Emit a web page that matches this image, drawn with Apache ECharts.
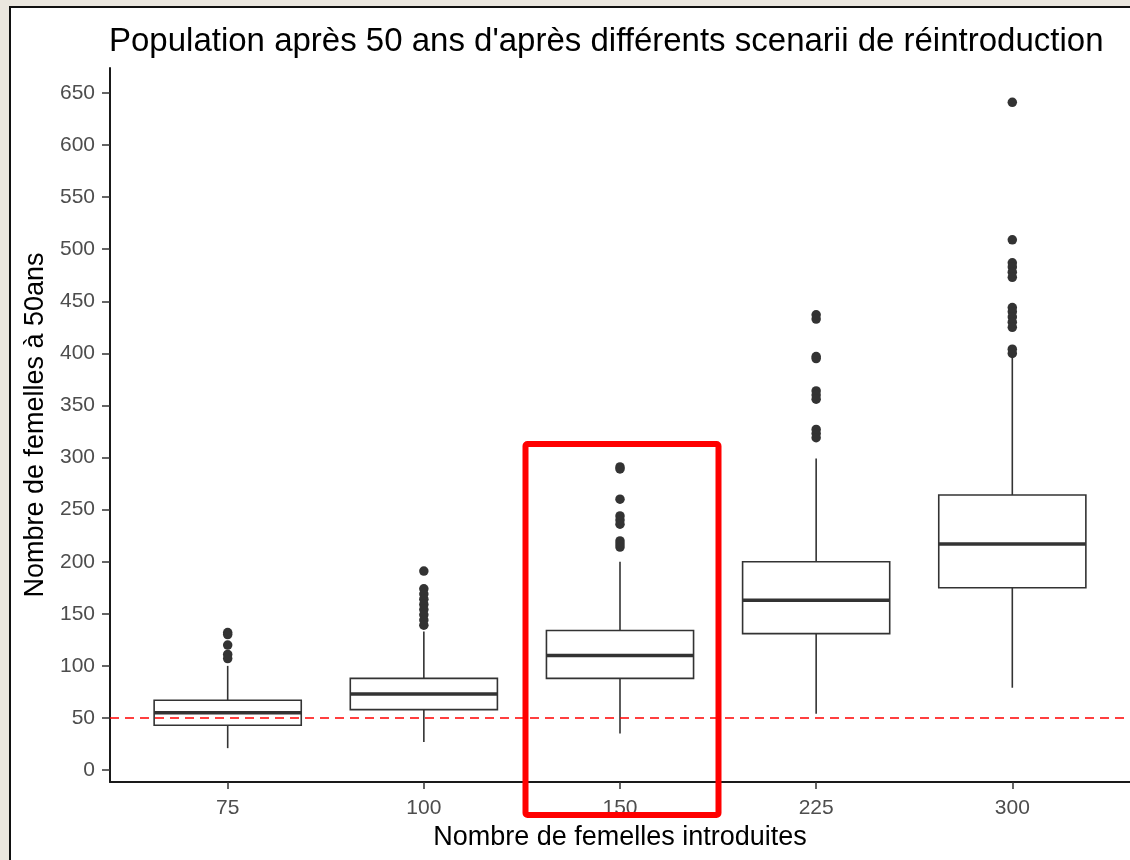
<!DOCTYPE html>
<html>
<head>
<meta charset="utf-8">
<script src="https://cdn.jsdelivr.net/npm/echarts@6/dist/echarts.min.js"></script>
<style>
html, body { margin: 0; padding: 0; background: #ebe7df; }
#main { width: 1130px; height: 860px; }
</style>
</head>
<body>
<div id="main"></div>
<script>
// categories on the x axis (number of females introduced)
var categories = ['75', '100', '150', '225', '300'];

// boxplot stats per category
var whiskerLow  = [21, 27, 35, 54, 79];
var q1          = [43, 58, 88, 131, 175];
var medians     = [55, 73, 110, 163, 217];
var q3          = [67, 88, 134, 200, 264];
var whiskerHigh = [100, 133, 200, 299, 397];

// outliers
var outliers75  = [132, 130, 120, 111, 107];
var outliers100 = [191, 174, 169, 164, 159, 154, 149, 144, 139];
var outliers150 = [291, 289, 260, 244, 240, 236, 220, 217, 214];
var outliers225 = [437, 433, 397, 395, 364, 360, 356, 327, 323, 319];
var outliers300 = [641, 509, 487, 483, 478, 473, 444, 440, 435, 430, 425, 404, 400];

var yTicks = [0, 50, 100, 150, 200, 250, 300, 350, 400, 450, 500, 550, 600, 650];
var threshold = 50;

var myChart = echarts.init(document.getElementById('main'));

var boxData = categories.map(function (c, i) {
    return [i + 1, whiskerLow[i], q1[i], medians[i], q3[i], whiskerHigh[i]];
});

var outlierData = [];
[outliers75, outliers100, outliers150, outliers225, outliers300].forEach(function (list, i) {
    list.forEach(function (v) { outlierData.push([i + 1, v]); });
});

function renderBox(params, api) {
    var x = api.value(0);
    var lo = api.coord([x, api.value(1)]);
    var b1 = api.coord([x, api.value(2)]);
    var md = api.coord([x, api.value(3)]);
    var b3 = api.coord([x, api.value(4)]);
    var hi = api.coord([x, api.value(5)]);
    var w = api.size([0.75, 0])[0];
    var half = w / 2;
    var thin = { stroke: '#333333', lineWidth: 1.6 };
    return {
        type: 'group',
        children: [
            { type: 'line', shape: { x1: lo[0], y1: lo[1], x2: b1[0], y2: b1[1] }, style: thin },
            { type: 'line', shape: { x1: b3[0], y1: b3[1], x2: hi[0], y2: hi[1] }, style: thin },
            { type: 'rect', shape: { x: b3[0] - half, y: b3[1], width: w, height: b1[1] - b3[1] },
              style: { fill: '#ffffff', stroke: '#333333', lineWidth: 1.6 } },
            { type: 'line', shape: { x1: md[0] - half, y1: md[1], x2: md[0] + half, y2: md[1] },
              style: { stroke: '#333333', lineWidth: 3.5 } }
        ]
    };
}

var option = {
    animation: false,
    textStyle: { fontFamily: 'Liberation Sans, Arial, sans-serif' },
    title: {
        text: "Population après 50 ans d'après différents scenarii de réintroduction",
        left: 109,
        top: 25,
        padding: 0,
        textStyle: { fontSize: 33, fontWeight: 'normal', color: '#000000' }
    },
    grid: { left: 110, right: -4, top: 68, bottom: 78 },
    xAxis: {
        type: 'value',
        min: 0.4,
        max: 5.6,
        name: 'Nombre de femelles introduites',
        nameLocation: 'middle',
        nameGap: 33,
        nameTextStyle: { fontSize: 27, color: '#000000' },
        splitLine: { show: false },
        axisLine: { onZero: false, lineStyle: { color: '#1a1a1a', width: 2 } },
        axisTick: { customValues: [1, 2, 3, 4, 5], length: 7, lineStyle: { color: '#333333', width: 1.5 } },
        axisLabel: {
            customValues: [1, 2, 3, 4, 5],
            formatter: function (v) { return categories[Math.round(v) - 1]; },
            fontSize: 21, color: '#4d4d4d', margin: 16
        }
    },
    yAxis: {
        type: 'value',
        min: -11.5,
        max: 674,
        name: 'Nombre de femelles à 50ans',
        nameLocation: 'middle',
        nameGap: 58,
        nameTextStyle: { fontSize: 27, color: '#000000' },
        splitLine: { show: false },
        axisLine: { show: true, onZero: false, lineStyle: { color: '#1a1a1a', width: 2 } },
        axisTick: { show: true, customValues: yTicks, length: 8, lineStyle: { color: '#333333', width: 1.5 } },
        axisLabel: { customValues: yTicks, fontSize: 21, color: '#4d4d4d', margin: 15 }
    },
    graphic: {
        elements: [
            { type: 'rect', z: -10, silent: true,
              shape: { x: 10, y: 7, width: 1130, height: 870 },
              style: { fill: '#ffffff', stroke: '#111111', lineWidth: 2 } },
            { type: 'rect', z: 100, silent: true,
              shape: { x: 525.5, y: 444, width: 193, height: 371, r: 2 },
              style: { fill: 'none', stroke: '#ff0000', lineWidth: 6 } }
        ]
    },
    series: [
        {
            type: 'custom',
            z: 2,
            renderItem: renderBox,
            encode: { x: 0, y: [1, 2, 3, 4, 5] },
            data: boxData
        },
        {
            type: 'scatter',
            z: 3,
            symbolSize: 9.5,
            itemStyle: { color: '#333333', opacity: 1 },
            data: outlierData,
            markLine: {
                silent: true,
                symbol: 'none',
                label: { show: false },
                lineStyle: { color: '#ff0000', type: [9, 6], width: 1.5 },
                data: [{ yAxis: threshold }]
            }
        }
    ]
};

myChart.setOption(option);

window.onresize = function () {
    myChart.resize();
};
</script>
</body>
</html>
